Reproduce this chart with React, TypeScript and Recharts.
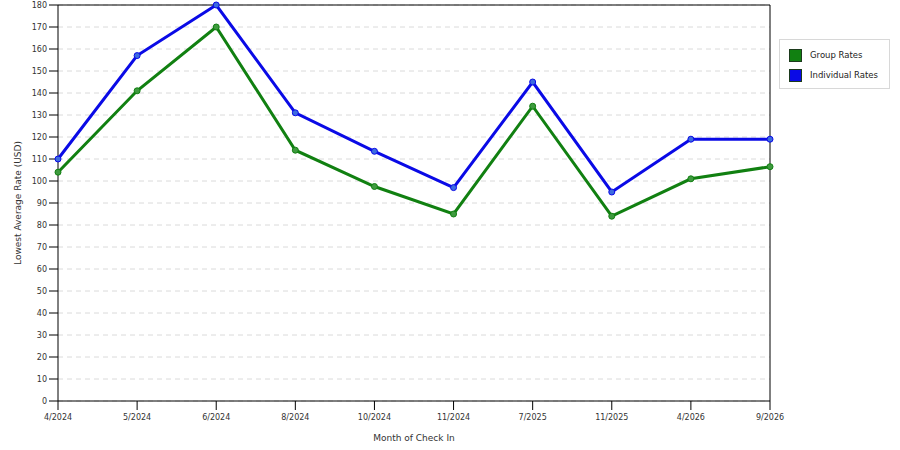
import { CartesianGrid, Line, LineChart, ReferenceLine, XAxis, YAxis } from "recharts";

const months = ["4/2024", "5/2024", "6/2024", "8/2024", "10/2024", "11/2024", "7/2025", "11/2025", "4/2026", "9/2026"];
const groupRates = [104, 141, 170, 114, 97.5, 85, 134, 84, 101, 106.5];
const individualRates = [110, 157, 180, 131, 113.5, 97, 145, 95, 119, 119];
const yTicks = [0, 10, 20, 30, 40, 50, 60, 70, 80, 90, 100, 110, 120, 130, 140, 150, 160, 170, 180];

const data = months.map((m, i) => ({ month: m, group: groupRates[i], individual: individualRates[i] }));

const font = "'DejaVu Sans', Verdana, sans-serif";
const tickStyle = { fontSize: 8, fill: "#333", fontFamily: font };

const legendItems = [
    { name: "Group Rates", color: "#118011" },
    { name: "Individual Rates", color: "#0a0ae6" },
];

// legend sits outside the recharts layout so the plot keeps its full width
function LegendBox() {
    return (
        <div
            style={{
                position: "absolute",
                left: 779,
                top: 39,
                width: 90,
                border: "1px solid #d8d8d8",
                padding: "5px 10px 3px 9px",
                fontFamily: font,
                fontSize: 8.5,
                color: "#222",
                background: "#fff",
            }}
        >
            {legendItems.map((it) => (
                <div key={it.name} style={{ display: "flex", alignItems: "center", height: 20 }}>
                    <span
                        style={{
                            display: "inline-block",
                            width: 11,
                            height: 11,
                            background: it.color,
                            border: "1px solid #1c3a1c",
                            marginRight: 8,
                        }}
                    />
                    {it.name}
                </div>
            ))}
        </div>
    );
}

export default function App() {
    return (
        <div style={{ position: "absolute", left: 0, top: 0, width: 900, height: 450, background: "#fff" }}>
            <LineChart width={900} height={450} data={data} margin={{ top: 5, right: 130, bottom: 0, left: 0 }}>
                <CartesianGrid vertical={false} stroke="#dadada" strokeDasharray="5 4" />
                <XAxis
                    dataKey="month"
                    height={49}
                    padding={{ left: 0, right: 0 }}
                    stroke="#000"
                    tickSize={9}
                    tickMargin={4}
                    tick={tickStyle}
                    interval={0}
                    label={{ value: "Month of Check In", position: "insideBottom", offset: 9, style: { ...tickStyle, fontSize: 9 } }}
                />
                <YAxis
                    width={58}
                    domain={[0, 180]}
                    ticks={yTicks}
                    interval={0}
                    stroke="#000"
                    tickSize={9}
                    tickMargin={2}
                    tick={tickStyle}
                    label={{
                        value: "Lowest Average Rate (USD)",
                        angle: -90,
                        position: "insideLeft",
                        offset: 18,
                        style: { ...tickStyle, fontSize: 9, textAnchor: "middle" },
                    }}
                />
                <ReferenceLine y={180} stroke="#000" />
                <ReferenceLine x="9/2026" stroke="#000" />
                <Line
                    dataKey="group"
                    name="Group Rates"
                    stroke="#118011"
                    strokeWidth={3}
                    dot={{ r: 3, fill: "#3f9a3f", stroke: "#118011", strokeWidth: 1 }}
                    isAnimationActive={false}
                />
                <Line
                    dataKey="individual"
                    name="Individual Rates"
                    stroke="#0a0ae6"
                    strokeWidth={3}
                    dot={{ r: 3, fill: "#3d6be0", stroke: "#0a0ae6", strokeWidth: 1 }}
                    isAnimationActive={false}
                />
            </LineChart>
            <LegendBox />
        </div>
    );
}
